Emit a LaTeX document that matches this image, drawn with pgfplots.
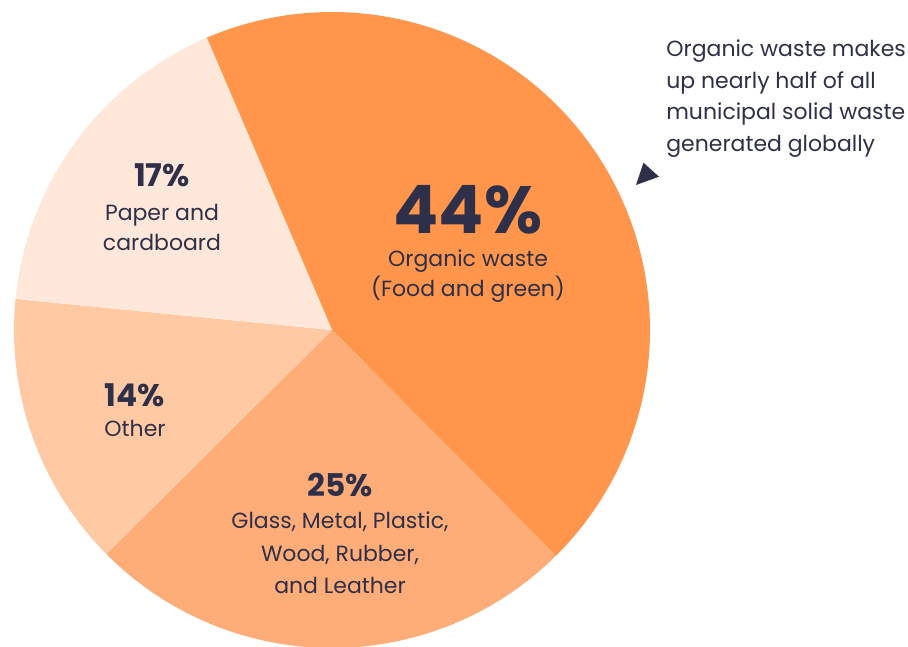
\documentclass[border=0pt]{standalone}
\usepackage{fontspec}
\setmainfont{Poppins}
\usepackage{pgfplots}
\pgfplotsset{compat=1.18}
\definecolor{cOrg}{HTML}{FF964B}
\definecolor{cGlass}{HTML}{FFAD78}
\definecolor{cOther}{HTML}{FFC9A3}
\definecolor{cPaper}{HTML}{FFE8DA}
\definecolor{txt}{HTML}{2E3049}
% shares (percent), clockwise from the start angle
\def\pOrg{44}
\def\pGlass{25}
\def\pOther{14}
\def\pPaper{17}
\def\startang{113.2}
\pgfmathsetmacro\aA{\startang}
\pgfmathsetmacro\aB{\aA-3.6*\pOrg}
\pgfmathsetmacro\aC{\aB-3.6*\pGlass}
\pgfmathsetmacro\aD{\aC-3.6*\pOther}
\pgfmathsetmacro\aE{\aD-3.6*\pPaper}
\def\cx{332}\def\cy{316}\def\rr{318}
\newcommand\bodyfont{\fontsize{12.5}{17}\selectfont}
\newcommand\pctfont{\fontsize{17.8}{20}\selectfont\bfseries}
\begin{document}
\begin{tikzpicture}
\begin{axis}[width=18.16cm,height=12.92cm,scale only axis,
  xmin=0,xmax=908,ymin=0,ymax=646,hide axis,clip=true]
\addplot[draw=none,fill=cOrg,domain=\aB:\aA,samples=120,variable=\t]
  ({\cx+\rr*cos(\t)},{\cy+\rr*sin(\t)}) -- (axis cs:\cx,\cy) -- cycle;
\addplot[draw=none,fill=cGlass,domain=\aC:\aB,samples=80,variable=\t]
  ({\cx+\rr*cos(\t)},{\cy+\rr*sin(\t)}) -- (axis cs:\cx,\cy) -- cycle;
\addplot[draw=none,fill=cOther,domain=\aD:\aC,samples=60,variable=\t]
  ({\cx+\rr*cos(\t)},{\cy+\rr*sin(\t)}) -- (axis cs:\cx,\cy) -- cycle;
\addplot[draw=none,fill=cPaper,domain=\aE:\aD,samples=60,variable=\t]
  ({\cx+\rr*cos(\t)},{\cy+\rr*sin(\t)}) -- (axis cs:\cx,\cy) -- cycle;
% pointer triangle
\addplot[draw=none,fill=txt] coordinates {(636,461) (643.5,483.3) (659,469.3)} -- cycle;
% labels
\begin{scope}[every node/.style={text=txt,inner sep=0pt}]
\node[anchor=base,font=\fontsize{38}{40}\selectfont\bfseries] at (axis cs:468,413) {44\%};
\node[anchor=base,font=\bodyfont] at (axis cs:468,379.3) {Organic waste};
\node[anchor=base,font=\bodyfont] at (axis cs:468,350) {(Food and green)};
\node[anchor=base,font=\pctfont] at (axis cs:162,459.3) {17\%};
\node[anchor=base,font=\bodyfont] at (axis cs:162,426) {Paper and};
\node[anchor=base,font=\bodyfont] at (axis cs:162,396) {cardboard};
\node[anchor=base,font=\pctfont] at (axis cs:135,239.3) {14\%};
\node[anchor=base,font=\bodyfont] at (axis cs:135,210) {Other};
\node[anchor=base,font=\pctfont] at (axis cs:340,150) {25\%};
\node[anchor=base,font=\bodyfont] at (axis cs:340,118) {Glass, Metal, Plastic,};
\node[anchor=base,font=\bodyfont] at (axis cs:340,85) {Wood, Rubber,};
\node[anchor=base,font=\bodyfont] at (axis cs:340,53) {and Leather};
\node[anchor=base west,font=\bodyfont] at (axis cs:666,589.3) {Organic waste makes};
\node[anchor=base west,font=\bodyfont] at (axis cs:666,557.7) {up nearly half of all};
\node[anchor=base west,font=\bodyfont] at (axis cs:666,526) {municipal solid waste};
\node[anchor=base west,font=\bodyfont] at (axis cs:666,494.5) {generated globally};
\end{scope}
\end{axis}
\pgfresetboundingbox
\path (current axis.south west) rectangle (current axis.north east);
\end{tikzpicture}
\end{document}
